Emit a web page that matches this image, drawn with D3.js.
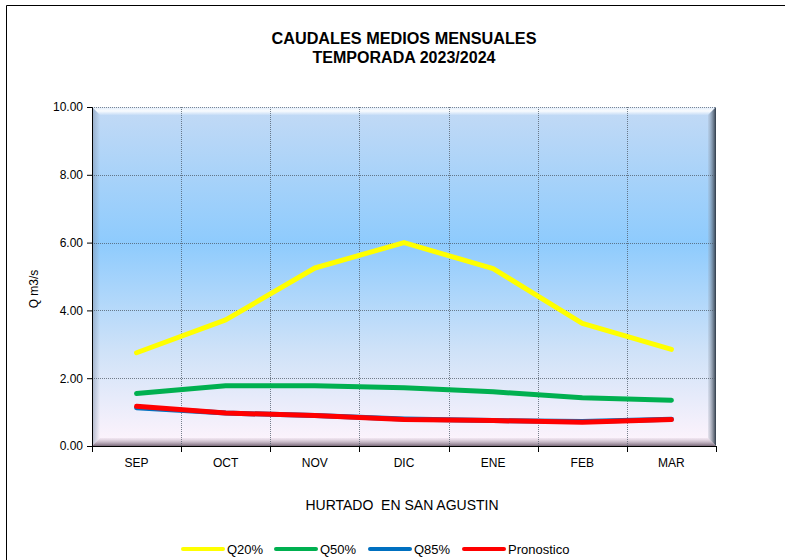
<!DOCTYPE html>
<html><head><meta charset="utf-8">
<script src="https://cdn.jsdelivr.net/npm/d3@7"></script>
<style>body{margin:0;background:#fff}svg{display:block;font-family:"Liberation Sans",Arial,sans-serif}</style>
</head><body><svg id="c" width="785" height="560"></svg>
<script>
const months = ["SEP","OCT","NOV","DIC","ENE","FEB","MAR"];
const q20 = [2.75, 3.72, 5.25, 6.0, 5.23, 3.62, 2.85];
const q50 = [1.55, 1.78, 1.78, 1.72, 1.60, 1.42, 1.35];
const q85 = [1.13, 0.97, 0.90, 0.80, 0.75, 0.72, 0.79];
const pron = [1.17, 0.97, 0.90, 0.78, 0.75, 0.70, 0.78];
const yTicks = [0, 2, 4, 6, 8, 10];
const seriesNames = ["Q20%","Q50%","Q85%","Pronostico"];
const seriesColors = ["#ffff00","#00b050","#0070c0","#ff0000"];
const seriesData = [q20, q50, q85, pron];

const svg = d3.select("#c");
const L = 92, R = 716, T = 107, B = 446;
const x = d3.scaleBand().domain(months).range([L, R]).padding(0);
const y = d3.scaleLinear().domain([0, 10]).range([B, T]);

// outer border
svg.append("path").attr("d", "M6.5,560 V5.5 H785").attr("fill","none").attr("stroke","#000").attr("stroke-width",1);

// titles
svg.append("text").attr("x", 404).attr("y", 44).attr("text-anchor","middle")
  .attr("font-size", 16).attr("font-weight","bold").attr("textLength",265).attr("lengthAdjust","spacingAndGlyphs").text("CAUDALES MEDIOS MENSUALES");
svg.append("text").attr("x", 404).attr("y", 63).attr("text-anchor","middle")
  .attr("font-size", 16).attr("font-weight","bold").attr("textLength",183).attr("lengthAdjust","spacingAndGlyphs").text("TEMPORADA 2023/2024");

const defs = svg.append("defs");
const g1 = defs.append("linearGradient").attr("id","bg").attr("x1",0).attr("y1",0).attr("x2",0).attr("y2",1);
[[0,"#c3daf5"],[0.4,"#8ecbfd"],[0.72,"#cfe2f8"],[1,"#fff4fc"]].forEach(s=>g1.append("stop").attr("offset",s[0]).attr("stop-color",s[1]));
svg.append("rect").attr("x",L).attr("y",T).attr("width",R-L).attr("height",B-T).attr("fill","url(#bg)");

// bevel
const bw = 8;
const gr = defs.append("linearGradient").attr("id","bvR").attr("x1",0).attr("y1",0).attr("x2",1).attr("y2",0);
gr.append("stop").attr("offset",0).attr("stop-color","#9aa6b6").attr("stop-opacity",0.2);
gr.append("stop").attr("offset",1).attr("stop-color","#2e3a48").attr("stop-opacity",1);
const gb = defs.append("linearGradient").attr("id","bvB").attr("x1",0).attr("y1",0).attr("x2",0).attr("y2",1);
gb.append("stop").attr("offset",0).attr("stop-color","#d8c8d8").attr("stop-opacity",0.3);
gb.append("stop").attr("offset",1).attr("stop-color","#7a6a7a").attr("stop-opacity",1);
const gt = defs.append("linearGradient").attr("id","bvT").attr("x1",0).attr("y1",0).attr("x2",0).attr("y2",1);
gt.append("stop").attr("offset",0).attr("stop-color","#ffffff").attr("stop-opacity",0.5);
gt.append("stop").attr("offset",0.5).attr("stop-color","#ffffff").attr("stop-opacity",0.9);
gt.append("stop").attr("offset",1).attr("stop-color","#ffffff").attr("stop-opacity",0.1);
const gl = defs.append("linearGradient").attr("id","bvL").attr("x1",0).attr("y1",0).attr("x2",1).attr("y2",0);
gl.append("stop").attr("offset",0).attr("stop-color","#8090a8").attr("stop-opacity",0.6);
gl.append("stop").attr("offset",1).attr("stop-color","#8090a8").attr("stop-opacity",0);
svg.append("path").attr("d",`M${L},${T} H${R} L${R-bw},${T+bw} H${L+bw} Z`).attr("fill","url(#bvT)");
svg.append("path").attr("d",`M${L},${T} L${L+bw},${T+bw} V${B-bw} L${L},${B} Z`).attr("fill","url(#bvL)");
svg.append("path").attr("d",`M${L},${B} L${L+bw},${B-bw} H${R-bw} L${R},${B} Z`).attr("fill","url(#bvB)");
svg.append("path").attr("d",`M${R},${T} L${R-bw},${T+bw} V${B-bw} L${R},${B} Z`).attr("fill","url(#bvR)");

// gridlines
const grid = svg.append("g").attr("stroke","#4d5966").attr("stroke-width",1).attr("stroke-dasharray","1,1").attr("opacity",0.75);
yTicks.filter(v=>v>0 && v<10).forEach(v=>{
  grid.append("line").attr("x1",L).attr("x2",R).attr("y1",Math.round(y(v))+0.5).attr("y2",Math.round(y(v))+0.5);
});
months.slice(1).forEach(m=>{
  const xx = Math.round(x(m))+0.5;
  grid.append("line").attr("x1",xx).attr("x2",xx).attr("y1",T).attr("y2",B);
});
svg.append("line").attr("x1",L).attr("x2",R).attr("y1",T+0.5).attr("y2",T+0.5).attr("stroke","#7a8696").attr("stroke-dasharray","1,1");

// axes
const yAxis = d3.axisLeft(y).tickValues(yTicks).tickFormat(d3.format(".2f")).tickSize(5).tickPadding(4);
const ya = svg.append("g").attr("transform",`translate(${L},0)`).call(yAxis);
ya.select(".domain").attr("stroke","#000");
ya.selectAll("text").attr("font-size",12).attr("font-family","Liberation Sans, Arial").attr("fill","#000");

const xa = svg.append("g").attr("transform",`translate(0,${B})`);
xa.append("line").attr("x1",L).attr("x2",R+1).attr("y1",0.5).attr("y2",0.5).attr("stroke","#000");
months.concat(["_end"]).forEach((m,i)=>{
  const xx = i<months.length ? Math.round(x(m))+0.5 : R+0.5;
  xa.append("line").attr("x1",xx).attr("x2",xx).attr("y1",0).attr("y2",6).attr("stroke","#000");
});
months.forEach(m=>{
  xa.append("text").attr("x",x(m)+x.bandwidth()/2).attr("y",21).attr("text-anchor","middle").attr("font-size",12).text(m);
});

// axis titles
svg.append("text").attr("transform","translate(38,289) rotate(-90)").attr("text-anchor","middle").attr("font-size",12).text("Q m3/s");
svg.append("text").attr("x",402).attr("y",510).attr("text-anchor","middle").attr("font-size",14).attr("xml:space","preserve").style("white-space","pre").text("HURTADO  EN SAN AGUSTIN");

// series
const line = d3.line().x((d,i)=>x(months[i])+x.bandwidth()/2).y(d=>y(d));
seriesData.forEach((s,k)=>{
  svg.append("path").datum(s).attr("d",line).attr("fill","none").attr("stroke",seriesColors[k])
    .attr("stroke-width",5).attr("stroke-linejoin","round").attr("stroke-linecap","round");
});

// legend
const legX = [183, 276, 370, 464];
const lg = svg.append("g");
seriesNames.forEach((n,k)=>{
  lg.append("line").attr("x1",legX[k]).attr("x2",legX[k]+40).attr("y1",549).attr("y2",549)
    .attr("stroke",seriesColors[k]).attr("stroke-width",4).attr("stroke-linecap","round");
  lg.append("text").attr("x",legX[k]+44).attr("y",553.5).attr("font-size",13).text(n);
});
</script></body></html>
